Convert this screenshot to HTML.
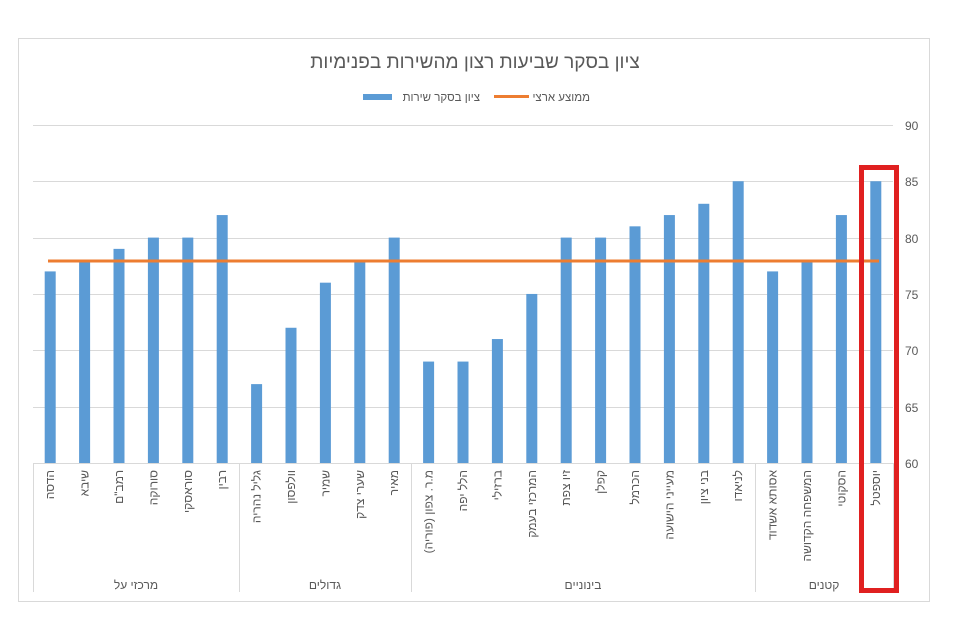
<!DOCTYPE html>
<html><head><meta charset="utf-8"><style>
body{margin:0;background:#fff;}
svg{display:block;font-family:"Liberation Sans","Noto Sans CJK SC",sans-serif;}
</style></head><body>
<svg width="955" height="621" viewBox="0 0 955 621" xmlns="http://www.w3.org/2000/svg">
<rect x="0" y="0" width="955" height="621" fill="#fff"/>
<rect x="18.5" y="38.5" width="911" height="563" fill="#fff" stroke="#d9d9d9"/>
<text x="475" y="68" font-size="19" fill="#595959" text-anchor="middle">ציון בסקר שביעות רצון מהשירות בפנימיות</text>
<rect x="363" y="94" width="29" height="6" fill="#5b9bd5"/>
<text x="480" y="101" font-size="11.5" fill="#595959" text-anchor="end">ציון בסקר שירות</text>
<rect x="494" y="95" width="35" height="3" fill="#ed7d31"/>
<text x="590" y="101" font-size="11.5" fill="#595959" text-anchor="end">ממוצע ארצי</text>
<g stroke="#d9d9d9" stroke-width="1">
<line x1="33" y1="125.5" x2="893" y2="125.5"/>
<line x1="33" y1="181.5" x2="893" y2="181.5"/>
<line x1="33" y1="238.5" x2="893" y2="238.5"/>
<line x1="33" y1="294.5" x2="893" y2="294.5"/>
<line x1="33" y1="350.5" x2="893" y2="350.5"/>
<line x1="33" y1="407.5" x2="893" y2="407.5"/>
<line x1="33" y1="463.5" x2="893" y2="463.5"/>
<line x1="33.5" y1="463" x2="33.5" y2="592"/>
<line x1="239.5" y1="463" x2="239.5" y2="592"/>
<line x1="411.5" y1="463" x2="411.5" y2="592"/>
<line x1="755.5" y1="463" x2="755.5" y2="592"/>
<line x1="893.5" y1="463" x2="893.5" y2="592"/>
</g>
<g font-size="12" fill="#595959">
<text x="905" y="130">90</text><text x="905" y="186">85</text><text x="905" y="243">80</text>
<text x="905" y="299">75</text><text x="905" y="355">70</text><text x="905" y="412">65</text><text x="905" y="468">60</text>
</g>
<g id="bars" fill="#5b9bd5"></g>
<line x1="48" y1="261" x2="879" y2="261" stroke="#ed7d31" stroke-width="3"/>
<g id="labels" font-size="12" fill="#595959"></g>
<g font-size="12" fill="#595959" text-anchor="middle">
<text x="136" y="589">מרכזי על</text>
<text x="325" y="589">גדולים</text>
<text x="583" y="589">בינוניים</text>
<text x="824" y="589">קטנים</text>
</g>
<rect x="861.5" y="167.5" width="35" height="423" fill="none" stroke="#e02020" stroke-width="5"/>
<script>
var vals=[77,78,79,80,80,82,67,72,76,78,80,69,69,71,75,80,80,81,82,83,85,77,78,82,85];
var names=["הדסה","שיבא","רמב\"ם","סורוקה","סוראסקי","רבין","גליל נהריה","וולפסון","שמיר","שערי צדק","מאיר","מ.ר. צפון (פוריה)","הלל יפה","ברזילי","המרכזי בעמק","זיו צפת","קפלן","הכרמל","מעייני הישועה","בני ציון","לניאדו","אסותא אשדוד","המשפחה הקדושה","הסקוטי","יוספטל"];
var ns="http://www.w3.org/2000/svg",b=document.getElementById("bars"),l=document.getElementById("labels");
for(var i=0;i<25;i++){var cx=33+34.4*(i+0.5);var y=463-(vals[i]-60)*11.27;
var r=document.createElementNS(ns,"rect");r.setAttribute("x",cx-5.5);r.setAttribute("y",y);r.setAttribute("width",11);r.setAttribute("height",463-y);b.appendChild(r);
var t=document.createElementNS(ns,"text");t.setAttribute("text-anchor","end");t.setAttribute("transform","translate("+(cx+4)+",470) rotate(-90)");t.textContent=names[i];l.appendChild(t);}
</script>
</svg>
</body></html>
